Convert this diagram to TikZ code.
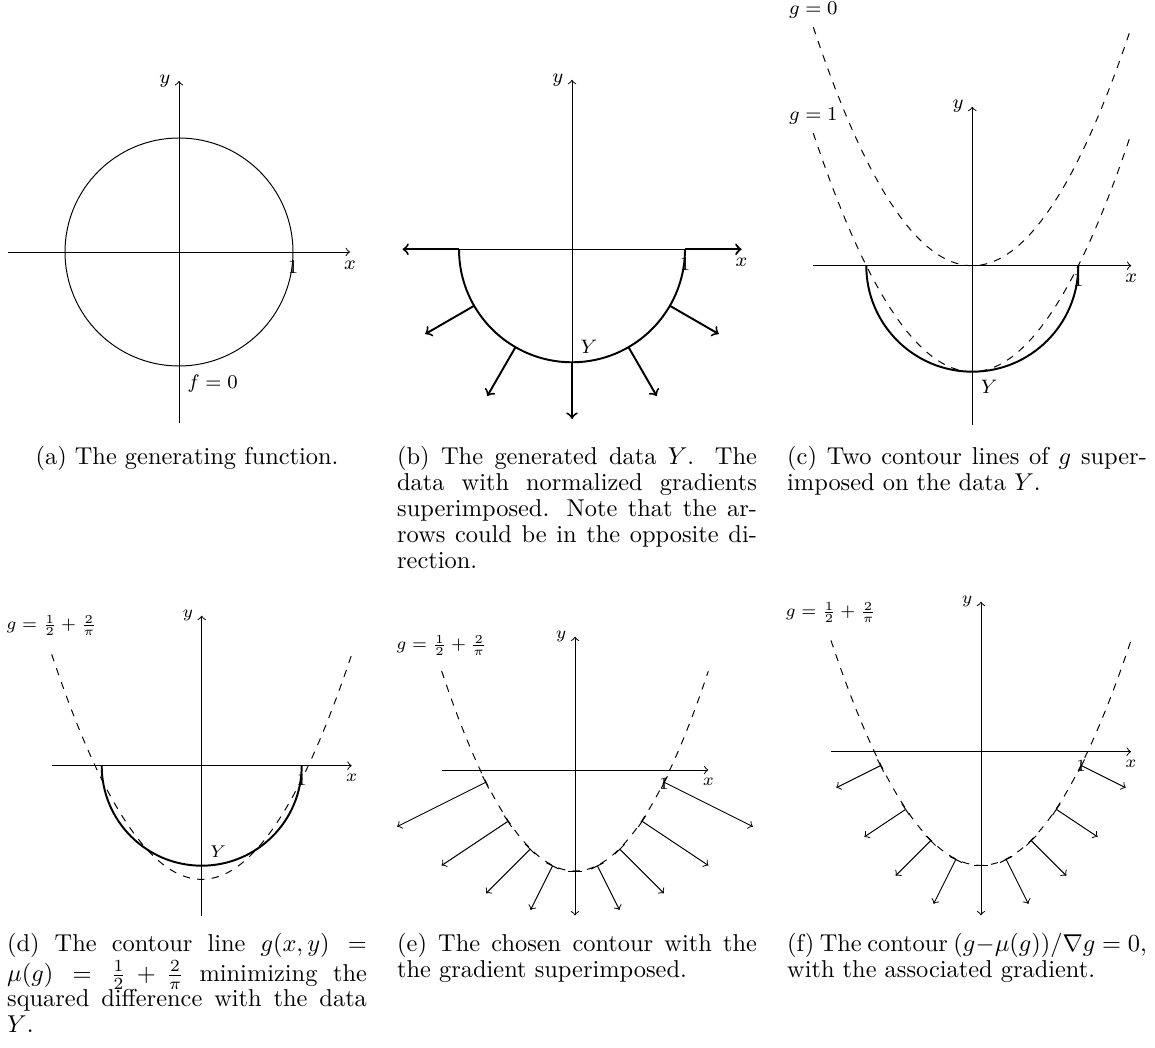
\documentclass[tikz,border=0pt]{standalone}
\usepackage{amsmath}
\usetikzlibrary{calc}

\tikzset{
  axisline/.style={->},
  dataline/.style={thick},
  contour/.style={dashed},
  gradarrow/.style={thick, ->},
  gradbar/.style={|->},
  subcap/.style={anchor=base west, inner sep=0pt, text width=147.5pt,
    align=justify, font=\fontsize{10}{10.6}\selectfont},
}

\begin{document}
\begin{tikzpicture}[x=0.41pt, y=0.41pt]

% 画布大小（像素单位）
\useasboundingbox (0,0) rectangle (1155,1048);

% g(x,y) = x^2 - y，选定的等值线 mu = 1/2 + 2/pi
\pgfmathsetmacro{\mug}{0.5+2/pi}

% (a) 生成函数 f = 0：单位圆
\begin{scope}[shift={(179,796)}, scale=114,
  every node/.style={font=\fontsize{8.2}{10}\selectfont}]
  \coordinate (Oa) at (0,0);
  \draw[axisline] (-1.5,0) -- (1.5,0);
  \draw[axisline] (0,-1.5) -- (0,1.5);
  \draw (Oa) circle [radius=1];
  \node[below] (xa) at (1.5,0) {$x$};
  \node[left] (ya) at (0,1.5) {$y$};
  \node[below] (onea) at (1,0) {$1$};
  \node[below right] (fa) at (0,-1) {$f=0$};
\end{scope}

% (b) 数据 Y：下半圆，叠加归一化梯度
\begin{scope}[shift={(572,798.7)}, scale=113,
  every node/.style={font=\fontsize{8.2}{10}\selectfont}]
  \draw[axisline] (-1.5,0) -- (1.5,0);
  \draw[axisline] (0,-1.5) -- (0,1.5);
  \draw[dataline] (-1,0) arc [start angle=180, end angle=360, radius=1];
  % 每隔 30 度一个梯度箭头
  \foreach \a in {180,210,...,360}
    \draw[gradarrow] (\a:1) -- (\a:1.5);
  \node[below] (xb) at (1.5,0) {$x$};
  \node[left] (yb) at (0,1.5) {$y$};
  \node[below] (oneb) at (1,0) {$1$};
  \node[above right] (Yb) at (0,-1) {$Y$};
\end{scope}

% (c) 两条等值线 g = 0, g = 1
\begin{scope}[shift={(972.3,782.3)}, scale=106,
  every node/.style={font=\fontsize{7.8}{10}\selectfont}]
  \draw[axisline] (-1.5,0) -- (1.5,0);
  \draw[axisline] (0,-1.5) -- (0,1.5);
  \draw[dataline] (-1,0) arc [start angle=180, end angle=360, radius=1];
  \draw[contour] plot[domain=-1.5:1.5, samples=61, smooth] (\x, {(\x)*(\x)});
  \draw[contour] plot[domain=-1.5:1.5, samples=61, smooth] (\x, {(\x)*(\x)-1});
  \node[above] (gzero) at (-1.5,2.25) {$g=0$};
  \node[above] (gone) at (-1.5,1.25) {$g=1$};
  \node[below] (xc) at (1.5,0) {$x$};
  \node[left] (yc) at (0,1.5) {$y$};
  \node[below] (onec) at (1,0) {$1$};
  \node[below right] (Yc) at (0,-1) {$Y$};
\end{scope}

% (d) 最小二乘意义下最优的等值线 g = mu
\begin{scope}[shift={(201.7,282.3)}, scale=100,
  every node/.style={font=\fontsize{7.45}{10}\selectfont}]
  \draw[axisline] (-1.5,0) -- (1.5,0);
  \draw[axisline] (0,-1.5) -- (0,1.5);
  \draw[dataline] (-1,0) arc [start angle=180, end angle=360, radius=1];
  \draw[contour] plot[domain=-1.5:1.5, samples=61, smooth] (\x, {(\x)*(\x)-\mug});
  \node (gmud) at (-1.5,1.4) {$g=\frac{1}{2}+\frac{2}{\pi}$};
  \node[below] (xd) at (1.5,0) {$x$};
  \node[left] (yd) at (0,1.5) {$y$};
  \node[below] (oned) at (1,0) {$1$};
  \node[above right] (Yd) at (0,-1) {$Y$};
\end{scope}

% (e) 等值线上叠加梯度 0.5*(2x,-1)
\begin{scope}[shift={(575,278)}, scale=88.9,
  every node/.style={font=\fontsize{6.6}{8}\selectfont}]
  \draw[axisline] (-1.5,0) -- (1.5,0);
  \draw[axisline] (0,-1.5) -- (0,1.5);
  \draw[contour] plot[domain=-1.5:1.5, samples=61, smooth] (\x, {(\x)*(\x)-\mug});
  \foreach \x in {-1,-0.75,...,1}
    \draw[gradbar] (\x, {(\x)*(\x)-\mug}) -- ++(\x,-0.5);
  \node (gmue) at (-1.5,1.4) {$g=\frac{1}{2}+\frac{2}{\pi}$};
  \node[below] (xe) at (1.5,0) {$x$};
  \node[left] (ye) at (0,1.5) {$y$};
  \node[below] (onee) at (1,0) {$1$};
\end{scope}

% (f) 归一化后的梯度，长度 0.5
\begin{scope}[shift={(981,296.3)}, scale=100,
  every node/.style={font=\fontsize{7.45}{10}\selectfont}]
  \draw[axisline] (-1.5,0) -- (1.5,0);
  \draw[axisline] (0,-1.5) -- (0,1.5);
  \draw[contour] plot[domain=-1.5:1.5, samples=61, smooth] (\x, {(\x)*(\x)-\mug});
  \foreach \x in {-1,-0.75,...,1} {
    \pgfmathsetmacro{\nx}{0.5*2*\x/sqrt(4*\x*\x+1)}
    \pgfmathsetmacro{\ny}{-0.5/sqrt(4*\x*\x+1)}
    \draw[gradbar] (\x, {(\x)*(\x)-\mug}) -- ++(\nx,\ny);
  }
  \node (gmuf) at (-1.5,1.39) {$g=\frac{1}{2}+\frac{2}{\pi}$};
  \node[below] (xf) at (1.5,0) {$x$};
  \node[left] (yf) at (0,1.5) {$y$};
  \node[below] (onef) at (1,0) {$1$};
\end{scope}

% 子图标题
\node[subcap, align=center] (capa) at (6.7,583) {(a) The generating function.};
\node[subcap] (capb) at (396.7,583) {(b) The generated data $Y$. The data with normalized gradients superimposed. Note that the arrows could be in the opposite direction.};
\node[subcap] (capc) at (786.7,583) {(c) Two contour lines of $g$ superimposed on the data $Y$.};
\node[subcap] (capd) at (6.7,96) {(d) The contour line $g(x,y) = \mu(g) = \frac{1}{2} + \frac{2}{\pi}$ minimizing the squared difference with the data $Y$.};
\node[subcap] (cape) at (396.7,96) {(e) The chosen contour with the the gradient superimposed.};
\node[subcap] (capf) at (786.7,96) {(f) The contour $(g-\mu(g))/\nabla g = 0$, with the associated gradient.};

\end{tikzpicture}
\end{document}
